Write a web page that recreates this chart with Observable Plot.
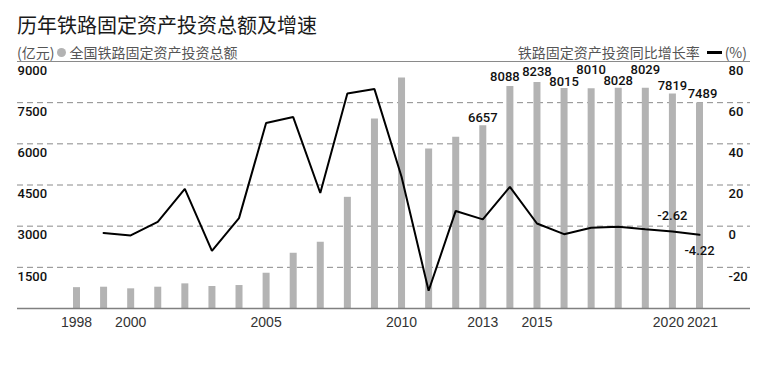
<!DOCTYPE html>
<html>
<head>
<meta charset="utf-8">
<script src="https://cdn.jsdelivr.net/npm/d3@7"></script>
<script src="https://cdn.jsdelivr.net/npm/@observablehq/plot@0.6"></script>
<style>
  html, body { margin: 0; padding: 0; background: #fff; }
  #wrap { position: relative; width: 766px; height: 377px; overflow: hidden; font-family: "Noto Sans CJK SC", "Noto Sans", sans-serif; }
  .title { position: absolute; left: 17px; top: 11px; font-size: 20px; line-height: 28px; color: #1a1a1a; white-space: nowrap; }
  .sub { position: absolute; top: 44px; font-size: 14px; line-height: 16px; color: #555; white-space: nowrap; }
  .dot { display: inline-block; width: 9px; height: 9px; border-radius: 50%; background: #b3b3b3; margin: 0 3px 0 3px; vertical-align: 1px; }
  .dash { display: inline-block; width: 15px; height: 3px; background: #000; margin: 0 3px 0 7px; vertical-align: 4px; }
  #chart { position: absolute; left: 0; top: 55px; }
</style>
</head>
<body>
<div id="wrap">
  <div class="title">历年铁路固定资产投资总额及增速</div>
  <div class="sub" style="left:17px">(亿元)<span class="dot"></span>全国铁路固定资产投资总额</div>
  <div class="sub" style="right:19px">铁路固定资产投资同比增长率<span class="dash"></span>(%)</div>
  <div id="chart"></div>
</div>
<script>
// ---- data ----
const years = [1998,1999,2000,2001,2002,2003,2004,2005,2006,2007,2008,2009,2010,2011,2012,2013,2014,2015,2016,2017,2018,2019,2020,2021];
const investment = [760,776,717,776,898,801,837,1285,2013,2414,4051,6905,8398,5813,6236,6657,8088,8238,8015,8010,8028,8029,7819,7489];
const growthYears = [1999,2000,2001,2002,2003,2004,2005,2006,2007,2008,2009,2010,2011,2012,2013,2014,2015,2016,2017,2018,2019,2020,2021];
const growth = [-3.3,-4.5,2.1,18.1,-12.0,3.9,50.1,53.0,16.1,64.4,66.6,24.0,-31.4,7.4,3.3,19.1,1.3,-3.9,-0.8,-0.3,-1.5,-2.62,-4.22];
const labeledYears = [2013,2014,2015,2016,2017,2018,2019,2020,2021];
const labeledGrowthYears = [2020,2021];
const xTicks = [1998,2000,2005,2010,2013,2015];
const xTicksEnd = [2020,2021];
const leftTicks = [1500,3000,4500,6000,7500,9000];
const rightTicks = [-20,0,20,40,60,80];

// ---- style / layout helpers ----
const toLeft = g => 3000 + g * 75;   // right axis (%) onto left axis (亿元)
const labelDy = {2013:-8, 2014:-10, 2015:-11, 2016:-7, 2017:-19, 2018:-7, 2019:-18, 2020:-8, 2021:-9};
const labelDx = {2014:-5, 2021:3};
const growthDy = {2020:-16, 2021:16};
const xTickDx = {2020:-4, 2021:3};

const bars = years.map((y, i) => ({year: y, value: investment[i]}));
const line = growthYears.map((y, i) => ({year: y, g: growth[i]}));
const barLabels = bars.filter(d => labeledYears.includes(d.year));
const growthLabels = line.filter(d => labeledGrowthYears.includes(d.year));

const xAxisStyle = {tickSize: 0, tickPadding: 9, tickFormat: d => String(d), fontFamily: "Liberation Sans", fontSize: 14, fill: "#333", label: null};
const numStyle = {fontFamily: "Roboto", fontSize: 13, fontWeight: 500, fill: "#111"};

const marks = [
  Plot.ruleY(leftTicks.filter(v => v !== 9000), {stroke: "#8a8a8a", strokeWidth: 1, strokeDasharray: "6,4"}),
  Plot.ruleY([9000], {stroke: "#8a8a8a", strokeWidth: 1.2}),
  Plot.ruleX(bars, {x: "year", y1: 0, y2: "value", stroke: "#b3b3b3", strokeWidth: 7}),
  Plot.ruleY([0], {stroke: "#808080", strokeWidth: 1.5}),
  Plot.line(line, {x: "year", y: d => toLeft(d.g), stroke: "#000", strokeWidth: 2, strokeLinejoin: "miter"}),
  Plot.axisY({anchor: "left", ticks: leftTicks, tickSize: 0, tickPadding: 0, textAnchor: "start", dy: 9,
    tickFormat: d => String(d), ...numStyle, label: null}),
  Plot.axisY({anchor: "right", ticks: rightTicks.map(toLeft), tickSize: 0, tickPadding: 0, textAnchor: "start", dx: -22, dy: 9,
    tickFormat: v => String(Math.round((v - 3000) / 75)), ...numStyle, label: null}),
  Plot.axisX({ticks: xTicks, ...xAxisStyle}),
  ...xTicksEnd.map(t => Plot.axisX({ticks: [t], dx: xTickDx[t], ...xAxisStyle})),
  ...barLabels.map(d => Plot.text([d], {x: "year", y: "value", text: d => String(d.value), dy: labelDy[d.year] || -8, dx: labelDx[d.year] || 0, ...numStyle})),
  ...growthLabels.map(d => Plot.text([d], {x: "year", y: d => toLeft(d.g), text: d => d.g.toFixed(2), dy: growthDy[d.year], ...numStyle}))
];

const chart = Plot.plot({
  width: 766,
  height: 322,
  marginTop: 6,
  marginBottom: 69,
  marginLeft: 17,
  marginRight: 16,
  x: {type: "linear", domain: [1995.822, 2022.883]},
  y: {domain: [0, 9000]},
  style: {background: "transparent", overflow: "visible"},
  marks
});
document.getElementById("chart").appendChild(chart);
</script>
</body>
</html>
